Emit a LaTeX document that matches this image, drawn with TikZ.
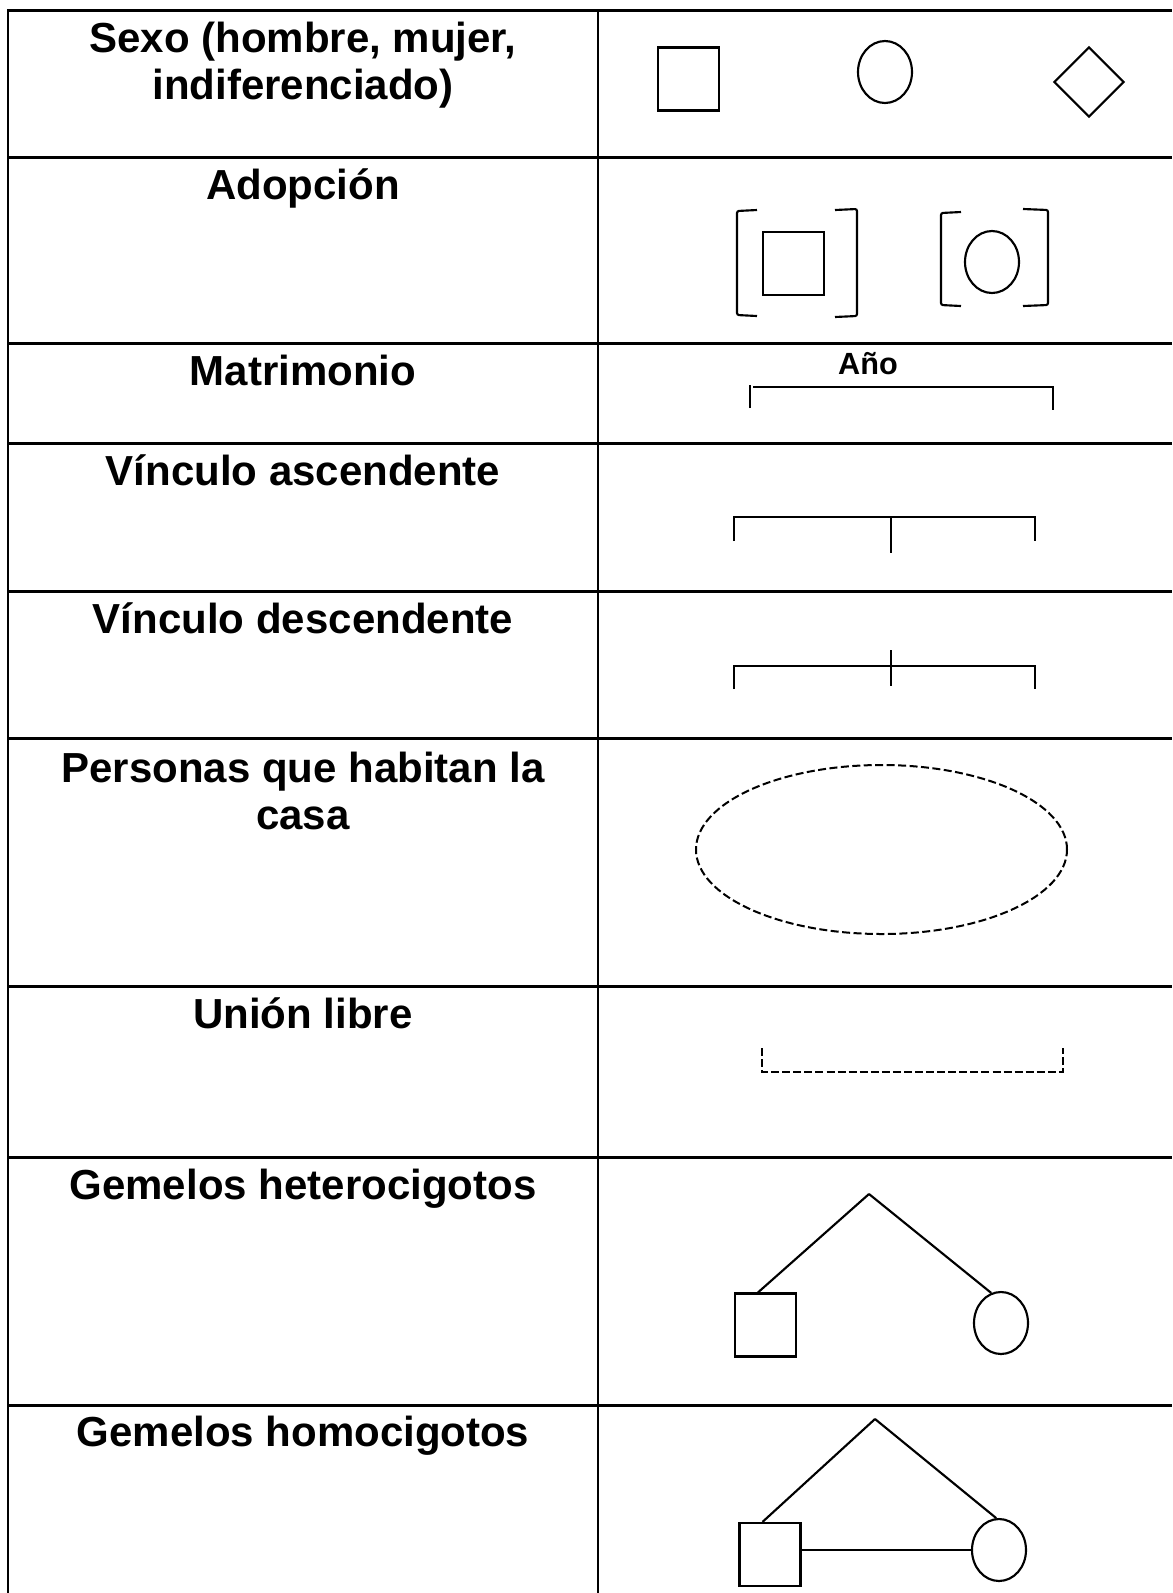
\documentclass[tikz,border=0pt]{standalone}
\usepackage{fontspec}
\setmainfont{Liberation Sans}
\usetikzlibrary{shapes.geometric}

\tikzset{every picture/.style={line width=0.75pt}}
\tikzset{
  rowline/.style={line width=2.25pt},
  colline/.style={line width=1.5pt},
  sym/.style={line width=1.6pt},
  celltext/.style={anchor=north,inner sep=0pt,align=center,font=\fontsize{31.5}{35.25}\selectfont\bfseries},
  male/.style={draw,sym,rectangle,inner sep=0pt,minimum width=45.75pt,minimum height=47.25pt},
  female/.style={draw,sym,ellipse,inner sep=0pt,minimum width=40.5pt,minimum height=46.5pt},
  neutral/.style={draw,sym,diamond,inner sep=0pt,minimum width=52.5pt,minimum height=52.5pt},
  house/.style={draw,ellipse,line width=1.5pt,dash pattern=on 6pt off 2.6pt,inner sep=0pt,minimum width=278.25pt,minimum height=126.75pt}
}

\begin{document}
\begin{tikzpicture}[x=0.75pt,y=0.75pt,yscale=-1,xscale=1]
\useasboundingbox (0,0) rectangle (1172,1593);

%Straight Lines (rows)
\draw[rowline] (7,10) -- (1172,10) ;
\draw[rowline] (7,157) -- (1172,157) ;
\draw[rowline] (7,343) -- (1172,343) ;
\draw[rowline] (7,443) -- (1172,443) ;
\draw[rowline] (7,591) -- (1172,591) ;
\draw[rowline] (7,738) -- (1172,738) ;
\draw[rowline] (7,986) -- (1172,986) ;
\draw[rowline] (7,1157) -- (1172,1157) ;
\draw[rowline] (7,1405) -- (1172,1405) ;
%Straight Lines (columns)
\draw[colline] (8,10) -- (8,1593) ;
\draw[colline] (598,10) -- (598,1593) ;

%Text
\node[celltext] (sexo) at (303,19) {\strut Sexo (hombre, mujer,\\indiferenciado)};
\node[celltext] (adopcion) at (303,166) {\strut Adopción};
\node[celltext] (matrimonio) at (303,352) {\strut Matrimonio};
\node[celltext] (ascendente) at (303,452) {\strut Vínculo ascendente};
\node[celltext] (descendente) at (303,600) {\strut Vínculo descendente};
\node[celltext] (personas) at (303,749) {\strut Personas que habitan la\\casa};
\node[celltext] (union) at (303,995) {\strut Unión libre};
\node[celltext] (hetero) at (303,1166) {\strut Gemelos heterocigotos};
\node[celltext] (homo) at (303,1413) {\strut Gemelos homocigotos};

%Shapes: sexo
\node[male] (hombre) at (688.5,79) {};
\node[female] (mujer) at (885,72) {};
\node[neutral] (indif) at (1089,82) {};

%Shapes: adopcion
\node[male] (adsq) at (793.5,263.5) {};
\node[female] (adci) at (992,262) {};
\draw[sym,rounded corners=1.5pt] (757,210) -- (737,211) -- (737,315) -- (757,316) ;
\draw[sym,rounded corners=1.5pt] (835,210) -- (857,209) -- (857,316) -- (835,317) ;
\draw[sym,rounded corners=1.5pt] (961,212) -- (941,213) -- (941,305) -- (961,306) ;
\draw[sym,rounded corners=1.5pt] (1023,209) -- (1048,210) -- (1048,305) -- (1023,306) ;

%Matrimonio
\node[anchor=base,inner sep=0pt,font=\fontsize{23}{27}\selectfont\bfseries] (anio) at (868,374) {Año};
\draw[sym] (750,408) -- (750,385) ;
\draw[sym] (753,387) -- (1053,387) -- (1053,410) ;

%Vinculo ascendente
\draw[sym] (734,541) -- (734,517) -- (1035,517) -- (1035,541) ;
\draw[sym] (891,517) -- (891,553) ;

%Vinculo descendente
\draw[sym] (734,689) -- (734,666) -- (1035,666) -- (1035,689) ;
\draw[sym] (891,650) -- (891,686) ;

%Personas que habitan la casa
\node[house] (casa) at (881.5,849.5) {};

%Union libre
\draw[sym,dash pattern=on 6pt off 2.3pt] (762,1048) -- (762,1072) -- (1063,1072) -- (1063,1048) ;

%Gemelos heterocigotos
\coordinate (hetop) at (869,1194) ;
\node[male] (hesq) at (765.5,1325) {};
\node[female] (heci) at (1001,1323) {};
\draw[sym] (hetop) -- (hesq.103) ;
\draw[sym] (hetop) -- (heci.108) ;

%Gemelos homocigotos
\coordinate (hotop) at (875,1419) ;
\node[male] (hosq) at (770,1554.5) {};
\node[female] (hoci) at (999,1550) {};
\draw[sym] (hotop) -- (hosq.103) ;
\draw[sym] (hotop) -- (hoci.95) ;
\draw[sym] (hosq.east |- hoci.west) -- (hoci.west) ;

\end{tikzpicture}
\end{document}
